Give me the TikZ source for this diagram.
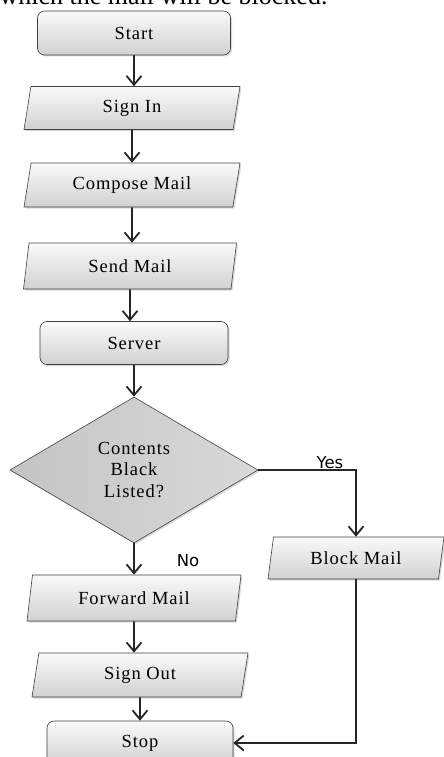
\documentclass[tikz,border=0pt]{standalone}
\usepackage{fontspec}
\setmainfont{Liberation Serif}
\newfontfamily\boxfont[LetterSpace=5]{Liberation Serif}
\newfontfamily\answerfont{DejaVu Sans}
\usetikzlibrary{shapes.geometric,arrows.meta,shadows}

\begin{document}
\begin{tikzpicture}[x=1pt,y=-1pt,line width=1.3pt,draw=black]
	\tikzstyle{box}=[draw=black!75,line width=0.6pt,text=black,font=\boxfont\fontsize{18.5}{21.5}\selectfont,inner sep=0pt,top color=gray!4,bottom color=gray!36,drop shadow={shadow xshift=1.5pt,shadow yshift=-1.5pt,opacity=0.3}]
	\tikzstyle{term}=[box,rectangle,rounded corners=7pt] % start / server / stop
	\tikzstyle{io}=[box,trapezium,trapezium left angle=67,trapezium right angle=113,trapezium stretches body] % parallelograms
	\tikzstyle{decide}=[box,diamond,aspect=1.7,left color=gray!46,right color=gray!30,align=center]
	\tikzstyle{answer}=[font=\answerfont\fontsize{16.5}{18}\selectfont,inner sep=0pt]
	\tikzstyle{line}=[-{Straight Barb[length=9pt,width=15pt,line width=1.8pt]},line width=1.8pt,black!85]
	\useasboundingbox (0,0) rectangle (444,757);
	\clip (0,0) rectangle (444,757);
	\node[anchor=base west,font=\fontsize{26}{30}\selectfont,inner sep=0pt] (caption) at (-1,5) {which the mail will be blocked.};
	% main column
	\node[term,minimum width=193,minimum height=44] (start) at (134,33) {Start};
	\node[io,minimum width=216,minimum height=43] (signin) at (132,108) {Sign In};
	\node[io,minimum width=216,minimum height=44] (compose) at (132,185) {Compose Mail};
	\node[io,minimum width=213,minimum height=46] (send) at (130,266) {Send Mail};
	\node[term,minimum width=188,minimum height=43] (server) at (134,343) {Server};
	\node[decide,minimum width=248,minimum height=146] (check) at (134,470) {Contents\\Black\\Listed?};
	\node[io,minimum width=214,minimum height=46] (forward) at (134,598) {Forward Mail};
	\node[io,minimum width=216,minimum height=44] (signout) at (140,675) {Sign Out};
	\node[term,minimum width=186,minimum height=44] (stop) at (140,743) {Stop};
	% side branch
	\node[io,minimum width=176,minimum height=42] (block) at (356,558) {Block Mail};
	\node[answer] (yes) at (330,463) {Yes};
	\node[answer] (no) at (188,561) {No};
	% connectors
	\draw[line] (start) -- (start |- signin.north);
	\draw[line] (signin) -- (signin |- compose.north);
	\draw[line] (compose) -- (compose |- send.north);
	\draw[line] (send) -- (send |- server.north);
	\draw[line] (server) -- (server |- check.north);
	\draw[line] (check) -- (check |- forward.north);
	\draw[line] (forward) -- (forward |- signout.north);
	\draw[line] (signout) -- (signout |- stop.north);
	\draw[line] (check.east) -| (block);
	\draw[line] (block) |- (stop);
\end{tikzpicture}
\end{document}
